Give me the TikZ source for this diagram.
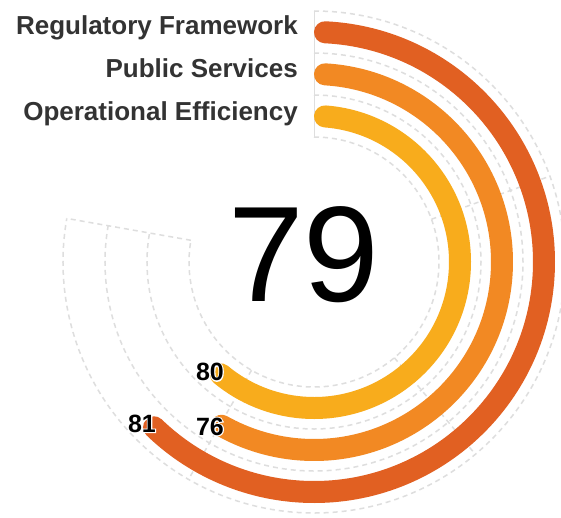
\documentclass[tikz,border=0pt]{standalone}
\usepackage{fontspec}
\setmainfont{Liberation Sans}
\newfontfamily\haloface[FakeBold=8]{Liberation Sans Bold}
\definecolor{regc}{RGB}{225,96,34}
\definecolor{pubc}{RGB}{242,137,35}
\definecolor{opc}{RGB}{248,172,28}
\definecolor{trackgray}{RGB}{222,222,222}
\definecolor{labelgray}{RGB}{51,51,51}
\tikzset{
  track/.style={draw=trackgray, line width=1.5pt, dash pattern=on 5pt off 4pt},
  axisline/.style={draw=trackgray, line width=1pt},
  barline/.style={line width=22pt, line cap=round},
  catlabel/.style={anchor=base east, inner sep=0pt, text=labelgray, font=\bfseries\fontsize{26}{26}\selectfont},
  vallabel/.style={inner sep=0pt, anchor=center, font=\bfseries\fontsize{25}{25}\selectfont},
  halolabel/.style={inner sep=0pt, anchor=center, text=white, font=\haloface\fontsize{25}{25}\selectfont},
  bignum/.style={inner sep=0pt, anchor=center, font=\fontsize{136}{136}\selectfont}
}
\newcommand\haloLabel[3]{%
  \node[halolabel] (#1halo) at (#2) {#3};
  \node[vallabel, text=black] (#1) at (#2) {#3};
}
\begin{document}
\begin{tikzpicture}[x=1pt,y=1pt]
\useasboundingbox (-314,-255) rectangle (247,262);
\fill[white] (-314,-255) rectangle (247,262);
% split circles
\foreach \r in {125,167,209,251}
  \draw[track] (90:\r) arc[start angle=90, end angle=-190, radius=\r];
% radial split lines
\foreach \a in {20,-50,-120,-190}
  \draw[track] (\a:125) -- (\a:251);
\draw[axisline] (90:125) -- (90:251);
% bars
\draw[barline, draw=regc] (87.26:230) arc[start angle=87.26, end angle=-134.06, radius=230];
\draw[barline, draw=pubc] (86.65:188) arc[start angle=86.65, end angle=-119.45, radius=188];
\draw[barline, draw=opc] (85.68:146) arc[start angle=85.68, end angle=-129.68, radius=146];
% category labels
\node[catlabel] (lreg) at (-16,227) {Regulatory Framework};
\node[catlabel] (lpub) at (-16,185) {Public Services};
\node[catlabel] (lop) at (-16,142) {Operational Efficiency};
% center number
\node[bignum] (total) at (-10,7) {79};
% value labels
\haloLabel{vop}{-104,-110}{80}
\haloLabel{vreg}{-172,-161.5}{81}
\haloLabel{vpub}{-104,-164.5}{76}
\end{tikzpicture}
\end{document}
